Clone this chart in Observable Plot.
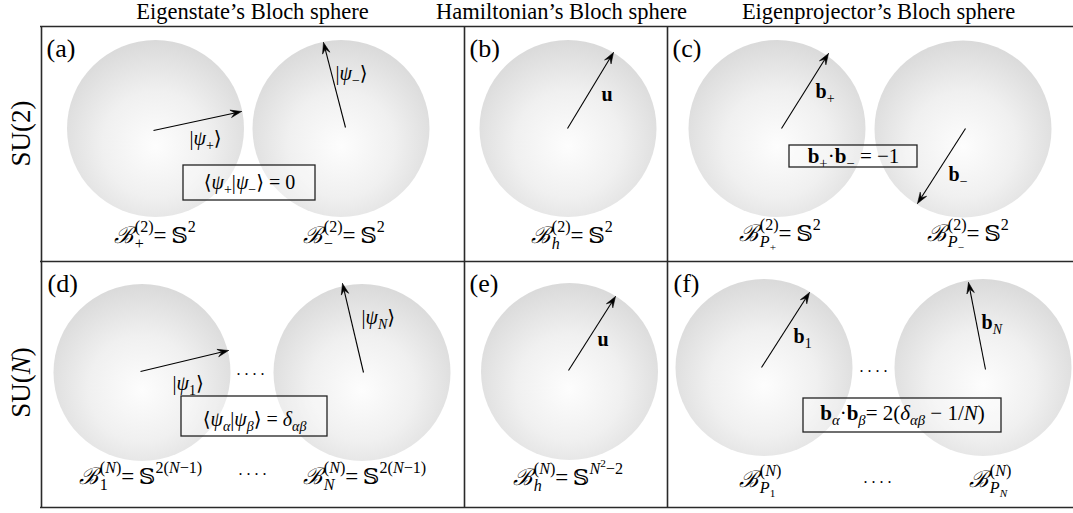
<!DOCTYPE html>
<html><head><meta charset="utf-8">
<script src="https://cdn.jsdelivr.net/npm/d3@7"></script>
<script src="https://cdn.jsdelivr.net/npm/@observablehq/plot@0.6"></script>
<style>body{margin:0;background:#fff;} svg{display:block}</style>
</head><body><div id="chart"></div>
<script>
// ---------- data (in figure units) ----------
const columnHeaders = ["Eigenstate’s Bloch sphere", "Hamiltonian’s Bloch sphere", "Eigenprojector’s Bloch sphere"];
const headerX = [252, 561, 878];

const rowLabels = ["SU(2)", "$\\r{SU}(N)"];
const rowLabelY = [133, 382];

const panelTags = ["(a)", "(b)", "(c)", "(d)", "(e)", "(f)"];
const panelTagX = [46, 469, 672, 47, 469, 673];
const panelTagBase = [56, 56, 56, 291, 291, 291];

const hRuleY = [26, 261, 507];
const vRuleX = [41, 464, 667];

// Bloch spheres (centres)
const sphereX = [155, 340.5, 567.5, 776.5, 962.5, 141.5, 361.5, 569, 763.5, 982.5];
const sphereY = [128, 128, 128, 128, 128.5, 372, 372, 371, 367, 367];

// Bloch vectors: origin -> tip
const vecX0 = [153, 345, 567, 781, 965, 140, 363, 568, 761, 985];
const vecY0 = [130, 127, 128, 128, 128, 371, 372, 370, 367, 369];
const vecX1 = [241, 323, 613, 828, 917, 228, 342, 615, 809, 968];
const vecY1 = [111, 42, 52, 53, 203, 350, 283, 296, 292, 282];

// vector labels
const vecLabels = ["$|ψ_{+}⟩", "$|ψ_{−}⟩", "$\\b{u}", "$\\b{b}_{+}", "$\\b{b}_{−}",
                   "$|ψ_{1}⟩", "$|ψ_{N}⟩", "$\\b{u}", "$\\b{b}_{1}", "$\\b{b}_{N}"];
const vecLabelX = [189, 335, 601, 815, 948, 172, 361, 597, 793, 981];
const vecLabelBase = [144, 79, 100, 97, 180, 389, 323, 345, 342, 328];

// orthogonality relations in boxes
const relations = ["$⟨ψ_{+}|ψ_{−}⟩ = 0", "$\\b{b}_{+}·\\b{b}_{−} = −1",
                   "$⟨ψ_{α}|ψ_{β}⟩ = δ_{αβ}", "$\\b{b}_{α}·\\b{b}_{β}= 2(δ_{αβ} − 1/N)"];
const boxX1 = [183, 789, 181, 803];
const boxX2 = [315, 917, 327, 1001];
const boxY1 = [165, 145, 396, 398];
const boxY2 = [200, 167, 436, 432];
const relationBase = [188, 162, 425, 419];
const relationSize = [20, 21, 20, 21];

// manifolds
const manifolds = ["$ℬ_{+}^{(2)}=\u2009𝕊^{2}", "$ℬ_{−}^{(2)}=\u2009𝕊^{2}", "$ℬ_{h}^{(2)}=\u2009𝕊^{2}",
                   "$ℬ_{P_{+}}^{(2)}=\u2009𝕊^{2}", "$ℬ_{P_{−}}^{(2)}=\u2009𝕊^{2}",
                   "$ℬ_{1}^{(N)}=\u2009𝕊^{2(N−1)}", "$ℬ_{N}^{(N)}=\u2009𝕊^{2(N−1)}", "$ℬ_{h}^{(N)}=\u2009𝕊^{N^{2}−2}",
                   "$ℬ_{P_{1}}^{(N)}", "$ℬ_{P_{N}}^{(N)}"];
const manifoldX = [113, 302, 530, 738, 926, 78, 302, 512, 738, 968];
const manifoldBase = [242, 242, 242, 240, 240, 483, 483, 484, 486, 486];

// ellipses
const ellipsisX = [250, 252, 873, 877];
const ellipsisBase = [374, 474, 371, 482];

// ---------- build tables ----------
const headersT = columnHeaders.map((t, i) => ({t, x: headerX[i]}));
const rowT = rowLabels.map((t, i) => ({t, y: rowLabelY[i]}));
const tagT = panelTags.map((t, i) => ({t, x: panelTagX[i], y: panelTagBase[i]}));
const spheres = sphereX.map((x, i) => ({x, y: sphereY[i]}));
const HL = 11, HW = 3.8, NOTCH = 0.62;
const vecs = vecX0.map((x0, i) => {
  const x1 = vecX1[i], y0 = vecY0[i], y1 = vecY1[i];
  const L = Math.hypot(x1 - x0, y1 - y0), dx = (x1 - x0) / L, dy = (y1 - y0) / L;
  return {i, x0, y0, x1, y1, dx, dy, xe: x1 - dx * HL * NOTCH, ye: y1 - dy * HL * NOTCH};
});
const heads = vecs.flatMap(v => {
  const nx = -v.dy, ny = v.dx, bx = v.x1 - v.dx * HL, by = v.y1 - v.dy * HL;
  return [
    {id: v.i, x: v.x1, y: v.y1},
    {id: v.i, x: bx + nx * HW, y: by + ny * HW},
    {id: v.i, x: v.xe, y: v.ye},
    {id: v.i, x: bx - nx * HW, y: by - ny * HW},
    {id: v.i, x: v.x1, y: v.y1}
  ];
});
const vecLabT = vecLabels.map((t, i) => ({t, x: vecLabelX[i], y: vecLabelBase[i]}));
const boxes = relations.map((t, i) => ({t, x1: boxX1[i], x2: boxX2[i], y1: boxY1[i], y2: boxY2[i], base: relationBase[i], fs: relationSize[i]}));
const manT = manifolds.map((t, i) => ({t, x: manifoldX[i], y: manifoldBase[i]}));
const ellT = ellipsisX.map((x, i) => ({t: ". . . .", x, y: ellipsisBase[i]}));

const FONT = "'Liberation Serif', 'DejaVu Serif', serif";

const chart = Plot.plot({
  width: 1073, height: 513, margin: 0,
  x: {domain: [0, 1073], axis: null},
  y: {domain: [0, 513], reverse: true, axis: null},
  style: {background: "white", fontFamily: FONT, color: "black"},
  marks: [
    Plot.dot(spheres, {x: "x", y: "y", r: 88.5, fill: "url(#sph)", stroke: "none"}),
    Plot.rect(boxes, {x1: "x1", x2: "x2", y1: "y1", y2: "y2", fill: "white", fillOpacity: 0.35, stroke: "#222", strokeWidth: 1.3}),
    Plot.link(vecs, {x1: "x0", y1: "y0", x2: "xe", y2: "ye", stroke: "black", strokeWidth: 1.1}),
    Plot.line(heads, {x: "x", y: "y", z: "id", fill: "black", stroke: "black", strokeWidth: 0.6, curve: "linear"}),
    Plot.ruleY(hRuleY, {x1: 40, x2: 1073, stroke: "#2a2a2a", strokeWidth: 1.6}),
    Plot.ruleX(vRuleX, {y1: 26, y2: 507, stroke: "#2a2a2a", strokeWidth: 1.6}),
    Plot.text(headersT, {x: "x", y: () => 18, text: "t", fontSize: 22.5, lineAnchor: "bottom", textAnchor: "middle"}),
    Plot.text(rowT, {x: () => 21, y: "y", text: "t", fontSize: 27, rotate: -90, textAnchor: "middle"}),
    Plot.text(tagT, {x: "x", y: "y", text: "t", fontSize: 26, lineAnchor: "bottom", textAnchor: "start"}),
    Plot.text(vecLabT, {x: "x", y: "y", text: "t", fontSize: 20, lineAnchor: "bottom", textAnchor: "start"}),
    Plot.text(boxes.filter(d => d.fs === 20), {x: d => (d.x1 + d.x2) / 2, y: "base", text: "t", fontSize: 20, lineAnchor: "bottom", textAnchor: "middle"}),
    Plot.text(boxes.filter(d => d.fs === 21), {x: d => (d.x1 + d.x2) / 2, y: "base", text: "t", fontSize: 21, lineAnchor: "bottom", textAnchor: "middle"}),
    Plot.text(manT, {x: "x", y: "y", text: "t", fontSize: 23, lineAnchor: "bottom", textAnchor: "start"}),
    Plot.text(ellT, {x: "x", y: "y", text: "t", fontSize: 16, lineAnchor: "bottom", textAnchor: "middle"})
  ]
});
document.getElementById("chart").appendChild(chart);

// gradient for the spheres
const defs = d3.select(chart).insert("defs", ":first-child");
const g = defs.append("radialGradient").attr("id", "sph")
  .attr("cx", 0.5).attr("cy", 0.58).attr("r", 0.6).attr("fx", 0.5).attr("fy", 0.6);
g.append("stop").attr("offset", 0).attr("stop-color", "#fdfdfd");
g.append("stop").attr("offset", 0.5).attr("stop-color", "#f0f0f0");
g.append("stop").attr("offset", 1).attr("stop-color", "#d8d8d8");

// ---------- minimal math typesetting into tspans ----------
function parse(str) {
  const nodes = []; let i = 0, buf = "";
  const flush = () => { if (buf) { nodes.push({t: "s", s: buf}); buf = ""; } };
  const group = () => {
    let d = 0; const st = i + 1;
    for (; i < str.length; i++) {
      const c = str[i];
      if (c === "{") d++;
      else if (c === "}") { d--; if (d === 0) { i++; return str.slice(st, i - 1); } }
    }
    return str.slice(st);
  };
  while (i < str.length) {
    const c = str[i];
    if ((c === "_" || c === "^") && str[i + 1] === "{") {
      flush();
      const node = {t: "x", sub: null, sup: null};
      while ((str[i] === "_" || str[i] === "^") && str[i + 1] === "{") {
        const k = str[i] === "_" ? "sub" : "sup"; i++;
        node[k] = parse(group());
      }
      nodes.push(node);
    } else if (c === "\\" && (str[i + 1] === "b" || str[i + 1] === "r") && str[i + 2] === "{") {
      flush(); const kind = str[i + 1]; i += 2;
      nodes.push({t: kind, s: group()});
    } else { buf += c; i++; }
  }
  flush();
  return nodes;
}
const NS = "http://www.w3.org/2000/svg";
const SYMBOLS = new Set(["⟨", "⟩", "ℬ", "𝕊"]);
function typeset(el, str) {
  const base = parseFloat(getComputedStyle(el).fontSize) || 20;
  el.textContent = "";
  const st = {cur: 0, dx: 0};
  function span(s, size, off, cls, bold) {
    const t = document.createElementNS(NS, "tspan");
    t.textContent = s;
    t.setAttribute("font-size", size);
    t.setAttribute("font-style", cls === "i" || s === "ℬ" ? "italic" : "normal");
    t.setAttribute("font-weight", bold ? "bold" : "normal");
    const dy = off - st.cur; if (dy) t.setAttribute("dy", dy); st.cur = off;
    const pdx = st.dx; if (pdx) t.setAttribute("dx", pdx); st.dx = 0;
    el.appendChild(t);
    const w = t.getComputedTextLength() + pdx;
    if (s === "ℬ") st.dx = size * 0.1; // italic correction before scripts
    return w;
  }
  function run(s, size, off, mode) {
    let w = 0, chunk = "", ci = null;
    for (const ch of Array.from(s)) {
      const cls = SYMBOLS.has(ch) ? "s" : (mode === "m" && /[A-Za-z\u03B1-\u03C9]/.test(ch)) ? "i" : "u";
      if (ci !== null && (cls !== ci || cls === "s")) { w += span(chunk, size, off, ci, mode === "b"); chunk = ""; }
      chunk += ch; ci = cls;
    }
    if (chunk) w += span(chunk, size, off, ci, mode === "b");
    return w;
  }
  function render(nodes, size, off) {
    let w = 0;
    for (const n of nodes) {
      if (n.t === "s") w += run(n.s, size, off, "m");
      else if (n.t === "b" || n.t === "r") w += run(n.s, size, off, n.t);
      else {
        const ss = size * 0.7;
        const k = st.dx;
        let wsup = 0;
        if (n.sup) wsup = render(n.sup, ss, off - size * 0.45);
        if (n.sub) {
          if (n.sup) st.dx -= (wsup - k);
          const r = render(n.sub, ss, off + size * 0.28);
          if (n.sup) {
            const endSub = r + wsup, m = Math.max(wsup, endSub);
            st.dx += m - endSub; w += m;
          } else w += r;
        } else w += wsup;
      }
    }
    return w;
  }
  render(parse(str), base, 0);
}
d3.select(chart).selectAll("text").each(function () {
  const s = this.textContent;
  if (s && s[0] === "$") typeset(this, s.slice(1));
});
</script>
</body></html>
